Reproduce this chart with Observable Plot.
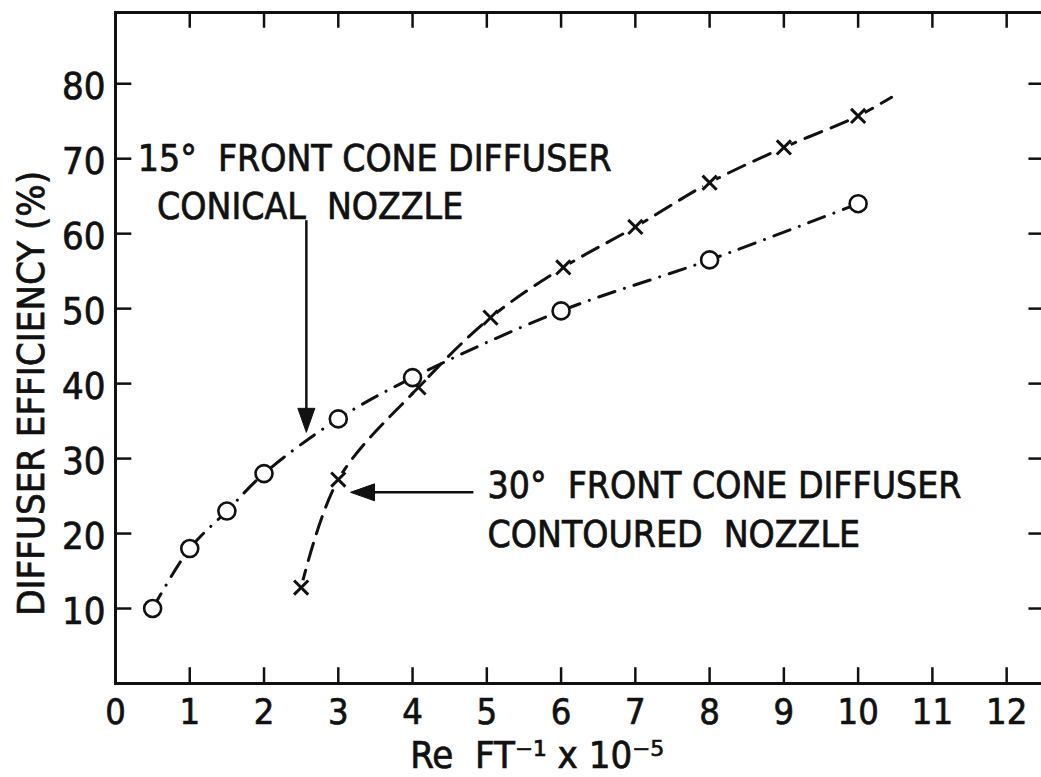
<!DOCTYPE html>
<html>
<head>
<meta charset="utf-8">
<script src="https://cdn.jsdelivr.net/npm/d3@7"></script>
<script src="https://cdn.jsdelivr.net/npm/@observablehq/plot@0.6"></script>
<style>
  html, body { margin: 0; padding: 0; background: #fff; overflow: hidden; }
  #chart svg text { stroke: #111; stroke-width: 0.7px; }
</style>
</head>
<body>
<div id="chart"></div>
<script>
// ---- data ----
// 15° front cone diffuser, conical nozzle (open circles, dash-dot line)
const conicalX = [0.5, 1, 1.5, 2, 3, 4, 6, 8, 10];
const conicalY = [10, 18, 23, 28, 35.3, 40.8, 49.7, 56.5, 64];
// 30° front cone diffuser, contoured nozzle (x symbols, dashed line)
const contouredX = [2.5, 3, 4.08, 5.05, 6.03, 7, 8, 9, 10];
const contouredY = [12.8, 27.2, 39.5, 48.8, 55.5, 60.9, 66.8, 71.5, 75.7];
// dashed curve continues a little past the last point
const contouredTailX = [10.45];
const contouredTailY = [78.2];

const xTicks = [0, 1, 2, 3, 4, 5, 6, 7, 8, 9, 10, 11, 12];
const yTicks = [10, 20, 30, 40, 50, 60, 70, 80];

const yTitle = "DIFFUSER EFFICIENCY (%)";
const xTitle = "Re  FT\u207B\u00B9 x 10\u207B\u2075";
const label15a = "15\u00B0  FRONT CONE DIFFUSER";
const label15b = "CONICAL  NOZZLE";
const label30a = "30\u00B0  FRONT CONE DIFFUSER";
const label30b = "CONTOURED  NOZZLE";

// ---- build tables ----
const conical = conicalX.map((x, i) => ({x, y: conicalY[i]}));
const contoured = contouredX.map((x, i) => ({x, y: contouredY[i]}));
const contouredLine = contoured.concat(contouredTailX.map((x, i) => ({x, y: contouredTailY[i]})));

const xDomain = [0, 12.55];
const yDomain = [0, 89.5];

// elongated filled arrow head, tip at origin, pointing down
const headSymbol = {
  draw(context) {
    const w = 8.5, h = 24;
    context.moveTo(0, 0);
    context.lineTo(-w, -h);
    context.lineTo(w, -h);
    context.closePath();
  }
};

const arrowDown = {x: 2.57, y1: 61.8, y2: 33.5};
const arrowLeft = {y: 25.5, x1: 4.82, x2: 3.165};

const ink = "#111";
const textStyle = {letterSpacing: "1.5px"};

const chart = Plot.plot({
  width: 1041,
  height: 777,
  marginLeft: 115,
  marginRight: -6,
  marginTop: 12,
  marginBottom: 94,
  style: {
    fontFamily: '"Liberation Sans Narrow", "DejaVu Sans Condensed", sans-serif',
    fontSize: "38px",
    background: "#fff",
    color: ink,
    overflow: "visible"
  },
  x: {domain: xDomain, axis: null},
  y: {domain: yDomain, axis: null},
  marks: [
    // frame
    Plot.frame({stroke: ink, strokeWidth: 3}),
    // inward ticks: bottom, top, left, right
    Plot.ruleX(xTicks.slice(1), {x: d => d, y1: 0, y2: 2.1, stroke: ink, strokeWidth: 2.5}),
    Plot.ruleX(xTicks.slice(1), {x: d => d, y1: yDomain[1], y2: yDomain[1] - 2.1, stroke: ink, strokeWidth: 2.5}),
    Plot.ruleY(yTicks, {y: d => d, x1: 0, x2: 0.22, stroke: ink, strokeWidth: 2.5}),
    Plot.ruleY(yTicks, {y: d => d, x1: xDomain[1] - 0.25, x2: xDomain[1], stroke: ink, strokeWidth: 2.5}),
    // tick labels
    Plot.axisX({ticks: xTicks, tickSize: 0, tickPadding: 15, anchor: "bottom", label: null, fontSize: 36, tickFormat: d => String(d)}),
    Plot.axisY({ticks: yTicks, tickSize: 0, tickPadding: 10, anchor: "left", label: null, fontSize: 38, dy: 3, tickFormat: d => String(d), style: {letterSpacing: "5px"}}),
    // axis titles
    Plot.text([yTitle], {x: () => -1.124, y: () => 38.7, text: d => d, rotate: -90, fontSize: 38, textAnchor: "middle", lineAnchor: "middle", fill: ink, style: {letterSpacing: "3px"}}),
    Plot.text([xTitle], {x: () => 3.97, y: () => -9.6, text: d => d, fontSize: 38, textAnchor: "start", lineAnchor: "middle", fill: ink}),
    // curves
    Plot.line(conical, {x: "x", y: "y", curve: "catmull-rom", stroke: ink, strokeWidth: 3, strokeDasharray: "17,10,0.1,10", strokeLinecap: "round"}),
    Plot.line(contouredLine, {x: "x", y: "y", curve: "catmull-rom", stroke: ink, strokeWidth: 3, strokeDasharray: "18,10", strokeLinecap: "round"}),
    // markers
    Plot.dot(contoured, {x: "x", y: "y", r: 7.5, fill: "#fff", stroke: null}),
    Plot.dot(contoured, {x: "x", y: "y", symbol: "times", r: 6.5, stroke: ink, strokeWidth: 3}),
    Plot.dot(conical, {x: "x", y: "y", symbol: "circle", r: 8.5, fill: "#fff", stroke: ink, strokeWidth: 2.6}),
    // arrows
    Plot.link([arrowDown], {x1: "x", x2: "x", y1: "y1", y2: d => d.y2 + 2.5, stroke: ink, strokeWidth: 2.5}),
    Plot.dot([arrowDown], {x: "x", y: "y2", symbol: headSymbol, r: 10, fill: ink, stroke: ink, strokeWidth: 1}),
    Plot.link([arrowLeft], {x1: "x1", x2: d => d.x2 + 0.25, y1: "y", y2: "y", stroke: ink, strokeWidth: 2.5}),
    Plot.dot([arrowLeft], {x: "x2", y: "y", symbol: headSymbol, rotate: 90, r: 10, fill: ink, stroke: ink, strokeWidth: 1}),
    // annotation labels
    Plot.text([label15a], {x: () => 0.30, y: () => 70, text: d => d, textAnchor: "start", lineAnchor: "middle", fontSize: 37, fill: ink, style: textStyle}),
    Plot.text([label15b], {x: () => 0.56, y: () => 63.6, text: d => d, textAnchor: "start", lineAnchor: "middle", fontSize: 37, fill: ink, style: textStyle}),
    Plot.text([label30a], {x: () => 5.01, y: () => 26.3, text: d => d, textAnchor: "start", lineAnchor: "middle", fontSize: 37, fill: ink, style: textStyle}),
    Plot.text([label30b], {x: () => 5.01, y: () => 19.8, text: d => d, textAnchor: "start", lineAnchor: "middle", fontSize: 37, fill: ink, style: textStyle})
  ]
});

document.getElementById("chart").appendChild(chart);
</script>
</body>
</html>
